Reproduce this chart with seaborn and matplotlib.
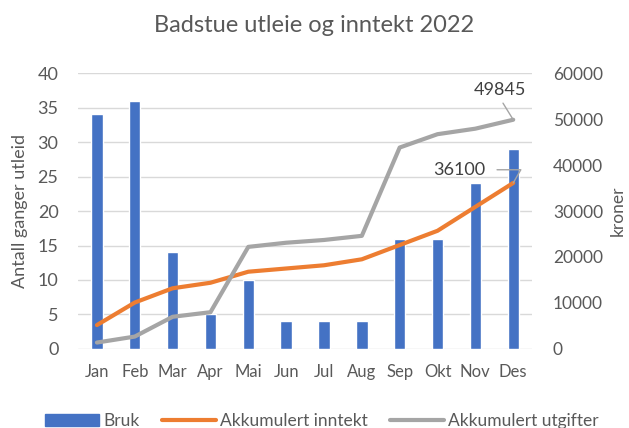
import numpy as np
import pandas as pd
import matplotlib.pyplot as plt
import seaborn as sns
from matplotlib.patches import Patch
from matplotlib.lines import Line2D

months = ["Jan", "Feb", "Mar", "Apr", "Mai", "Jun", "Jul", "Aug", "Sep", "Okt", "Nov", "Des"]
bruk = [34, 36, 14, 5, 10, 4, 4, 4, 16, 16, 24, 29]
inntekt = [5200, 10100, 13200, 14400, 16800, 17500, 18200, 19500, 22600, 25700, 30900, 36100]
utgifter = [1400, 2700, 7000, 8000, 22200, 23100, 23700, 24600, 43800, 46700, 47900, 49845]

df = pd.DataFrame({"month": months, "bruk": bruk, "inntekt": inntekt, "utgifter": utgifter})
df["pos"] = np.arange(len(df))

sns.set_style("white")
plt.rcParams["font.family"] = ["Lato", "DejaVu Sans"]
txt = "#595959"

fig = plt.figure(figsize=(6.29, 4.28), dpi=100)
ax = fig.add_axes([0.124, 0.1846, 0.722, 0.6448])
sns.barplot(data=df, x="month", y="bruk", color="#4472C4", width=0.3, saturation=1, ax=ax, zorder=2)
ax.set_ylim(0, 40)
ax.set_yticks(range(0, 41, 5))
ax.grid(axis="y", color="#d9d9d9", linewidth=1, zorder=0)
ax.set_axisbelow(True)
ax.set_xlim(-0.5, 11.5)
for s in ax.spines.values():
    s.set_visible(False)
ax.set_xlabel("")
ax.set_ylabel("Antall ganger utleid", fontsize=13, color=txt, labelpad=7)
ax.tick_params(axis="x", length=0, labelsize=12, labelcolor=txt, pad=11)
ax.tick_params(axis="y", length=0, labelsize=13, labelcolor=txt, pad=14)

ax2 = ax.twinx()
sns.lineplot(data=df, x="pos", y="inntekt", color="#ED7D31", linewidth=3, ax=ax2, sort=False,
             solid_capstyle="round")
sns.lineplot(data=df, x="pos", y="utgifter", color="#A5A5A5", linewidth=3, ax=ax2, sort=False,
             solid_capstyle="round")
ax2.set_ylim(0, 60000)
ax2.set_yticks(range(0, 60001, 10000))
ax2.set_xlim(-0.5, 11.5)
for s in ax2.spines.values():
    s.set_visible(False)
ax2.set_ylabel("kroner", fontsize=12.5, color=txt, labelpad=5)
ax2.tick_params(axis="y", length=0, labelsize=12.5, labelcolor=txt, pad=15)

last = len(df) - 1
ax2.annotate(f"{utgifter[-1]}", xy=(last, utgifter[-1]), xytext=(9, 16), textcoords="offset points",
             ha="right", va="bottom", fontsize=13, color="#404040",
             arrowprops=dict(arrowstyle="-", color="#A5A5A5", lw=1, shrinkA=2, shrinkB=0,
                             relpos=(0.5, 0)))
ax2.annotate(f"{inntekt[-1]}", xy=(last, inntekt[-1]), xytext=(-20, 9.5), textcoords="offset points",
             ha="right", va="center", fontsize=13, color="#404040",
             arrowprops=dict(arrowstyle="-", color="#A5A5A5", lw=1, shrinkA=6, shrinkB=0,
                             relpos=(1, 0.5), connectionstyle="angle,angleA=0,angleB=60,rad=0"))

fig.suptitle("Badstue utleie og inntekt 2022", x=0.5, y=0.965, fontsize=17, color=txt)

handles = [Patch(color="#4472C4"),
           Line2D([0], [0], color="#ED7D31", lw=3, solid_capstyle="round"),
           Line2D([0], [0], color="#A5A5A5", lw=3, solid_capstyle="round")]
fig.legend(handles, ["Bruk", "Akkumulert inntekt", "Akkumulert utgifter"], loc="center",
           bbox_to_anchor=(0.512, 0.016), ncol=3, frameon=False, fontsize=12.5, labelcolor=txt,
           handlelength=3.1, handletextpad=0.23, columnspacing=1.3)

fig.savefig("out.png", dpi=100)
